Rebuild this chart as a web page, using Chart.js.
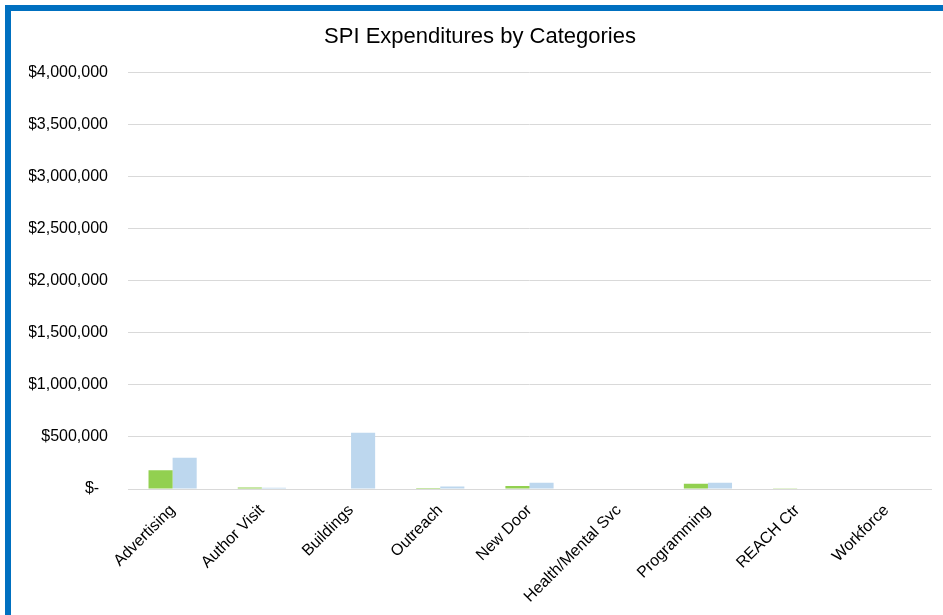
<!DOCTYPE html>
<html>
<head>
<meta charset="utf-8">
<script src="https://cdn.jsdelivr.net/npm/chart.js@4"></script>
<style>
  html, body { margin: 0; padding: 0; overflow: hidden; background: #fff; }
  #frame {
    position: absolute; left: 5px; top: 5px;
    width: 960px; height: 640px;
    border: 6px solid #0070C0; background: #fff;
  }
  #wrap { position: absolute; left: 0; top: 0; width: 938px; height: 604px; }
</style>
</head>
<body>
<div id="frame"><div id="wrap"><canvas id="spiChart"></canvas></div></div>
<script>
// categories and values
const categories = ['Advertising', 'Author Visit', 'Buildings', 'Outreach', 'New Door',
  'Health/Mental Svc', 'Programming', 'REACH Ctr', 'Workforce'];
const greenValues = [180000, 15000, 0, 10000, 28000, 0, 50000, 8000, 0];
const blueValues = [300000, 12000, 540000, 25000, 60000, 0, 60000, 5000, 6000];
const yMax = 4000000;
const yStep = 500000;

function money(v) {
  if (v === 0) return '$-  ';
  return '$' + v.toLocaleString('en-US');
}

const font = 'Liberation Sans, Arial, sans-serif';
const ctx = document.getElementById('spiChart').getContext('2d');
const spiChart = new Chart(ctx, {
  type: 'bar',
  data: {
    labels: categories,
    datasets: [{
      label: 'Prior Year',
      data: greenValues,
      backgroundColor: '#92D050',
    }, {
      label: 'Current Year',
      data: blueValues,
      backgroundColor: '#BDD7EE',
    }]
  },
  options: {
    responsive: true,
    maintainAspectRatio: false,
    animation: false,
    categoryPercentage: 0.54,
    barPercentage: 1,
    layout: { padding: { left: 18, right: 18, top: 0, bottom: 0 } },
    plugins: {
      legend: { display: false },
      tooltip: { enabled: false },
      title: {
        display: true,
        text: 'SPI Expenditures by Categories',
        color: '#000',
        font: { family: font, size: 22, weight: 'normal' },
        padding: { top: 13, bottom: 22 }
      }
    },
    scales: {
      x: {
        grid: { display: false },
        border: { color: '#D9D9D9', width: 1 },
        afterFit: (s) => { s.height = 126; },
        ticks: {
          color: '#000',
          maxRotation: 45, minRotation: 45,
          padding: 4,
          font: { family: font, size: 16 }
        }
      },
      y: {
        min: 0, max: yMax,
        grid: { color: '#D9D9D9', drawTicks: false },
        border: { display: false },
        afterFit: (s) => { s.width = 99; },
        ticks: {
          stepSize: yStep,
          color: '#000',
          padding: 20,
          font: { family: font, size: 16 },
          callback: (v) => money(v)
        }
      }
    }
  }
});
</script>
</body>
</html>
